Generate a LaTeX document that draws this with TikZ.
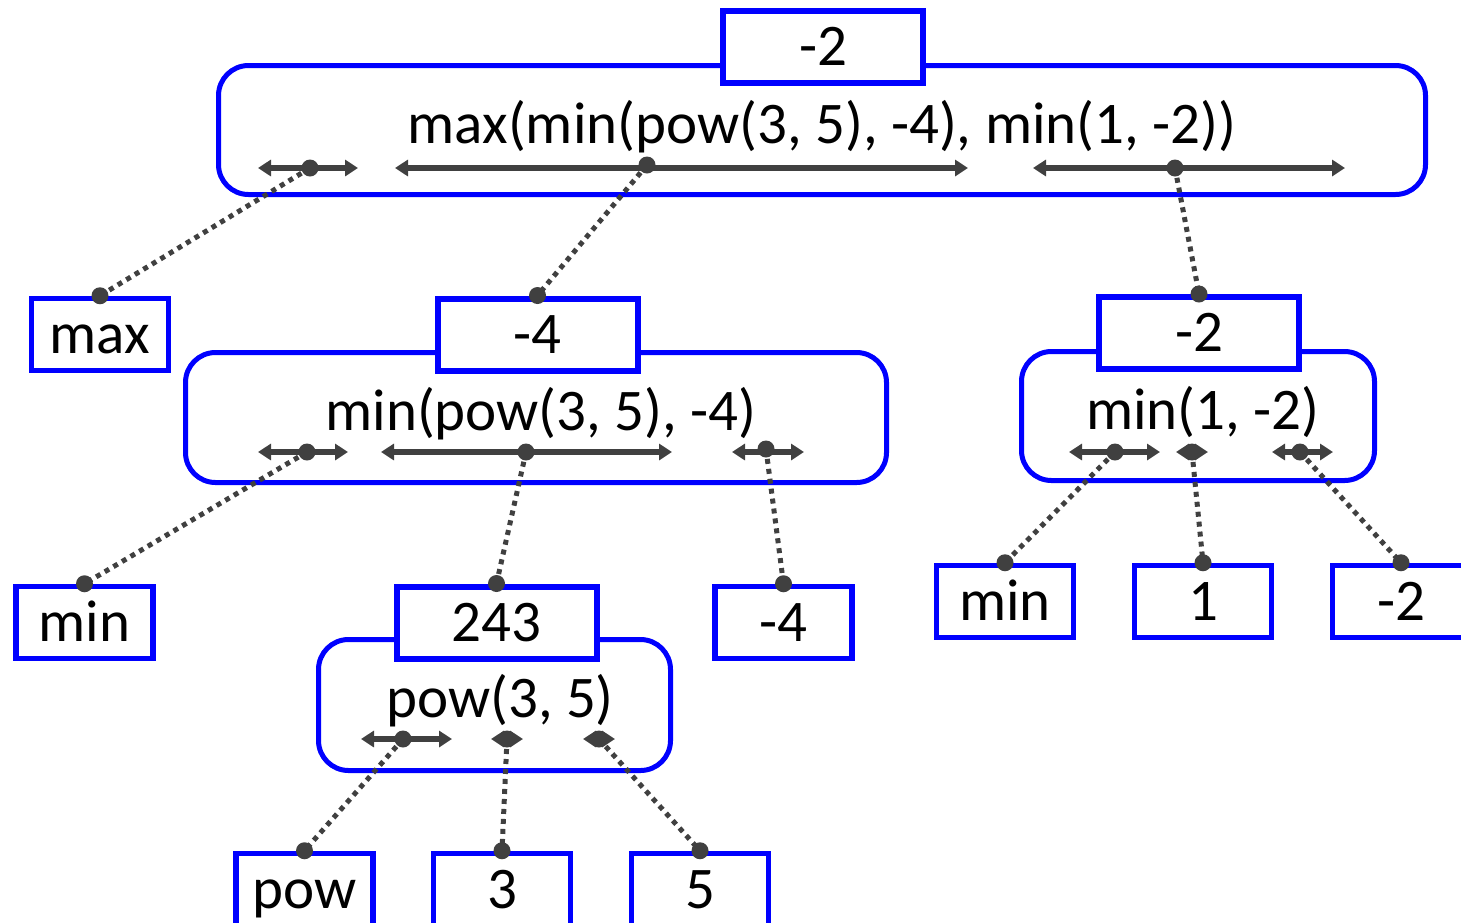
\documentclass[tikz,border=0pt]{standalone}
\usepackage{fontspec}
\setmainfont{Carlito}
\usetikzlibrary{arrows.meta}
\definecolor{bl}{HTML}{0000FF}
\definecolor{dg}{HTML}{404040}
\begin{document}
\begin{tikzpicture}[x=1pt,y=-1pt,
  every node/.style={font=\fontsize{59}{70}\selectfont},
  frame/.style={draw=bl, line width=5pt, rounded corners=30pt, fill=white, inner sep=0pt},
  valbox/.style={draw=bl, line width=6pt, fill=white, minimum width=200pt, minimum height=72pt, inner sep=0pt, text height=37pt, text depth=0pt},
  leafbox/.style={valbox, line width=5.5pt, minimum width=137pt},
  span/.style={draw=dg, line width=5.5pt, {Triangle[length=13pt,width=16pt]}-{Triangle[length=13pt,width=16pt]}},
  link/.style={draw=dg, line width=5pt, dash pattern=on 5pt off 5pt},
  dot/.style={circle, fill=dg, inner sep=0pt, minimum size=17pt}
]
\useasboundingbox (0,0) rectangle (1461,922);

% ---- frames
\node[frame, minimum width=1207pt, minimum height=129pt] (f0) at (822,130) {};
\node[frame, minimum width=701pt, minimum height=130pt] (f1) at (536,417.5) {};
\node[frame, minimum width=352pt, minimum height=131pt] (f2) at (494.5,705) {};
\node[frame, minimum width=353pt, minimum height=129pt] (f3) at (1198,416) {};

% ---- value boxes
\node[valbox] (v0) at (823,47) {-2};
\node[valbox] (v1) at (537.5,334.5) {-4};
\node[valbox] (v2) at (496.5,622.5) {243};
\node[valbox] (v3) at (1199,333) {-2};

% ---- expression texts
\node[anchor=base, inner sep=0pt] (t0) at (822,143) {max(min(pow(3, 5), -4), min(1, -2))};
\node[anchor=base, inner sep=0pt] (t1) at (541,430) {min(pow(3, 5), -4)};
\node[anchor=base, inner sep=0pt] (t2) at (500,717) {pow(3, 5)};
\node[anchor=base, inner sep=0pt] (t3) at (1203,429) {min(1, -2)};

% ---- leaves
\node[leafbox] (l0) at (100,334.5) {max};
\node[leafbox] (l10) at (84.5,622.5) {min};
\node[leafbox] (l12) at (783.5,622.5) {-4};
\node[leafbox] (l20) at (304.5,889.5) {pow};
\node[leafbox] (l21) at (502,889.5) {3};
\node[leafbox] (l22) at (700,889.5) {5};
\node[leafbox] (l30) at (1005,601.5) {min};
\node[leafbox] (l31) at (1203,601.5) {1};
\node[leafbox] (l32) at (1401,601.5) {-2};

% ---- span arrows
\draw[span] (258,168) -- (358,168);
\draw[span] (395,168) -- (968,168);
\draw[span] (1033,168) -- (1345,168);
\draw[span] (258,452) -- (348,452);
\draw[span] (381,452) -- (672,452);
\draw[span] (732,452) -- (804,452);
\draw[span] (361,739) -- (452,739);
\draw[span] (491,739) -- (523,739);
\draw[span] (583,739) -- (615,739);
\draw[span] (1069,452) -- (1160,452);
\draw[span] (1176,452) -- (1208,452);
\draw[span] (1272,452) -- (1333,452);

% ---- span dots
\node[dot] (d01) at (310,168) {};
\node[dot] (d02) at (647,165) {};
\node[dot] (d03) at (1175,168) {};
\node[dot] (d11) at (307,452) {};
\node[dot] (d12) at (526,452) {};
\node[dot] (d13) at (766,449) {};
\node[dot] (d21) at (403,739) {};
\node[dot] (d22) at (507,739) {};
\node[dot] (d23) at (599,739) {};
\node[dot] (d31) at (1115,452) {};
\node[dot] (d32) at (1192,452) {};
\node[dot] (d33) at (1300,452) {};

% ---- links
\draw[link] (d01.center) -- (l0.north);
\draw[link] (d02.center) -- (v1.north);
\draw[link] (d03.center) -- (v3.north);
\draw[link] (d11.center) -- (l10.north);
\draw[link] (d12.center) -- (v2.north);
\draw[link] (d13.center) -- (l12.north);
\draw[link] (d21.center) -- (l20.north);
\draw[link] (d22.center) -- (l21.north);
\draw[link] (d23.center) -- (l22.north);
\draw[link] (d31.center) -- (l30.north);
\draw[link] (d32.center) -- (l31.north);
\draw[link] (d33.center) -- (l32.north);

% ---- end dots
\node[dot] (e0) at (l0.north) {};
\node[dot] (e1) at (v1.north) {};
\node[dot] (e3) at (v3.north) {};
\node[dot] (e10) at (l10.north) {};
\node[dot] (e2) at (v2.north) {};
\node[dot] (e12) at (l12.north) {};
\node[dot] (e20) at (l20.north) {};
\node[dot] (e21) at (l21.north) {};
\node[dot] (e22) at (l22.north) {};
\node[dot] (e30) at (l30.north) {};
\node[dot] (e31) at (l31.north) {};
\node[dot] (e32) at (l32.north) {};
\end{tikzpicture}
\end{document}
